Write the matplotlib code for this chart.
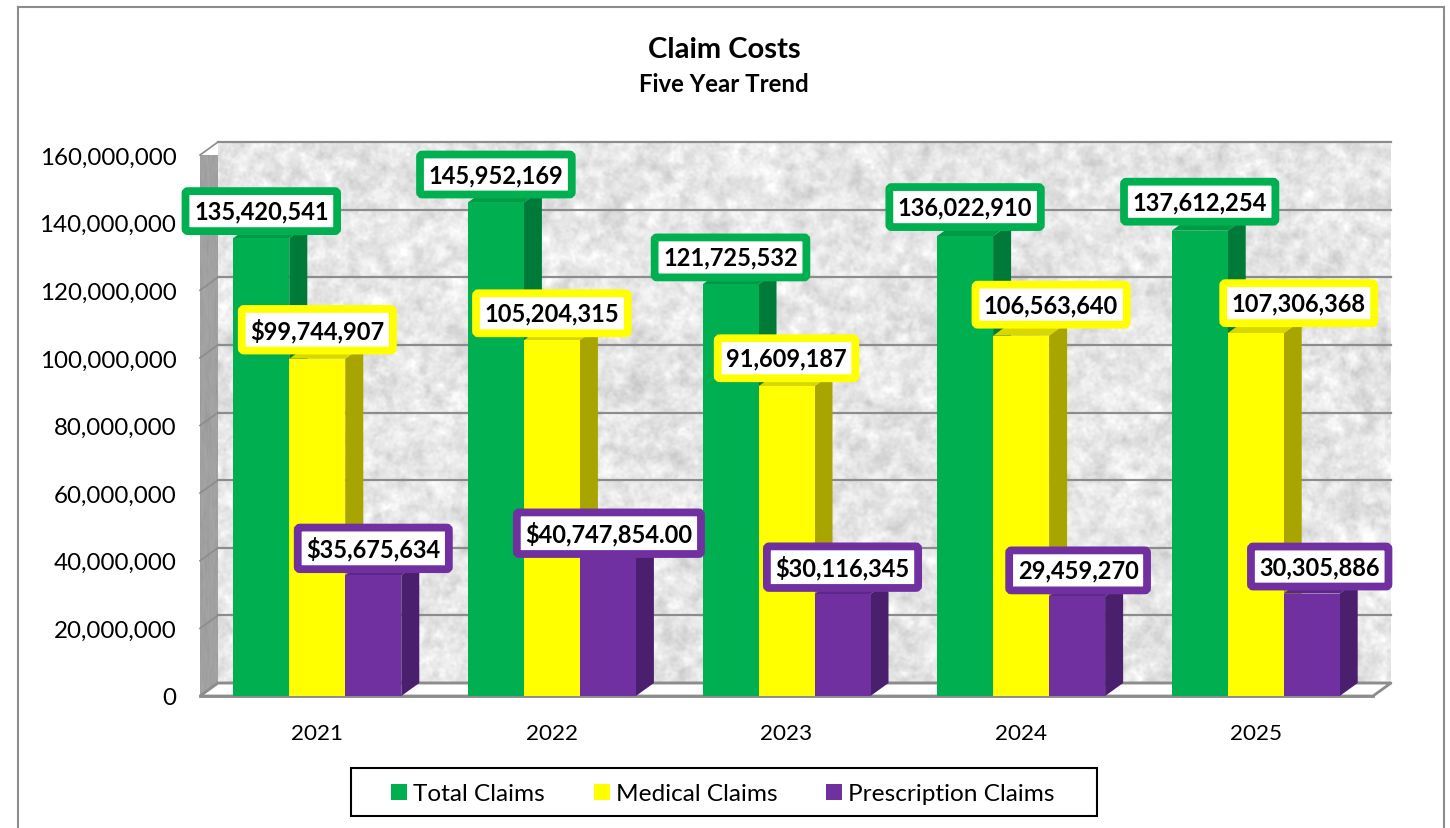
import numpy as np
import matplotlib
matplotlib.use('Agg')
import matplotlib.pyplot as plt
from matplotlib.patches import Polygon, Patch, Rectangle
from matplotlib.lines import Line2D

plt.rcParams['font.family'] = ['Lato', 'DejaVu Sans']

years = ['2021', '2022', '2023', '2024', '2025']
total_claims = [135420541, 145952169, 121725532, 136022910, 137612254]
medical_claims = [99744907, 105204315, 91609187, 106563640, 107306368]
prescription_claims = [35675634, 40747854, 30116345, 29459270, 30305886]

total_labels = ['135,420,541', '145,952,169', '121,725,532', '136,022,910', '137,612,254']
medical_labels = ['$99,744,907', '105,204,315', '91,609,187', '106,563,640', '107,306,368']
prescription_labels = ['$35,675,634', '$40,747,854.00', '$30,116,345', '29,459,270', '30,305,886']

# label offsets from the bar top centre, in pixels
total_offsets = [(0, 27), (0, 28), (0, 27), (0, 29), (0, 29)]
medical_offsets = [(0, 29), (0, 27), (0, 28), (30, 31), (43, 30)]
prescription_offsets = [(0, 27), (1, 25), (0, 27), (1, 26), (8, 27)]

W, H = 1450, 829
fig = plt.figure(figsize=(W / 100, H / 100), dpi=100)
ax = fig.add_axes([200 / W, 1 - 697 / H, 1173 / W, 541 / H])

ymax = 160000000
n = len(years)
bar_w = 56 / (1173 / n)
dx = 18 / (1173 / n)
dy = 13 / 541 * ymax
x0, x1 = -0.5, n - 0.5


def texture(base, amp, seed):
    # speckled stone look for the walls, not chart data
    rng = np.random.default_rng(seed)
    h, w = 543, 1174
    fy = np.fft.fftfreq(h)[:, None]
    fx = np.fft.rfftfreq(w)[None, :]
    f2 = fx ** 2 + fy ** 2
    img = np.zeros((h, w))
    for sigma, weight in [(1.2, 0.6), (3.5, 1.0), (9.0, 0.5)]:
        noise = rng.normal(size=(h, w))
        smooth = np.fft.irfft2(np.fft.rfft2(noise) * np.exp(-2 * (np.pi * sigma) ** 2 * f2), s=(h, w))
        img += weight * smooth / smooth.std()
    img = img / img.std()
    return np.clip(base + amp * img, 0, 1)


back = ax.imshow(texture(0.905, 0.032, 3), cmap='gray', vmin=0, vmax=1, aspect='auto',
                 extent=[x0 + dx, x1 + dx, dy, ymax + dy], interpolation='bilinear',
                 clip_on=False, zorder=1)

left = ax.imshow(texture(0.63, 0.025, 5), cmap='gray', vmin=0, vmax=1, aspect='auto',
                 extent=[x0, x0 + dx, 0, ymax + dy], interpolation='bilinear', zorder=1)
left_poly = Polygon([(x0, 0), (x0 + dx, dy), (x0 + dx, ymax + dy), (x0, ymax)],
                    closed=True, transform=ax.transData, fc='none', ec='none')
ax.add_patch(left_poly)
left.set_clip_path(left_poly)

floor = Polygon([(x0, 0), (x0 + dx, dy), (x1 + dx, dy), (x1, 0)], closed=True,
                fc='white', ec='#8c8c8c', lw=2, clip_on=False, zorder=1.5)
ax.add_patch(floor)

for v in range(0, ymax + 1, 20000000):
    ax.plot([x0 + dx, x1 + dx], [v + dy, v + dy], color='#8c8c8c', lw=1.6, clip_on=False, zorder=2)
    ax.plot([x0, x0 + dx], [v, v + dy], color='#8c8c8c', lw=1.2, clip_on=False, zorder=2)

ax.plot([x0, x1], [0, 0], color='#8c8c8c', lw=2, clip_on=False, zorder=2.5)

series = [
    (total_claims, '#00b050', '#007a38', '#009a45', total_labels, total_offsets, -1),
    (medical_claims, '#ffff00', '#a8a400', '#d8d800', medical_labels, medical_offsets, 0),
    (prescription_claims, '#7030a0', '#4a1f6e', '#5c2788', prescription_labels, prescription_offsets, 1),
]

for k, (vals, col, side, top, labels, offsets, pos) in enumerate(series):
    xs = np.arange(n) + pos * bar_w
    z = 3 + k
    ax.bar(xs, vals, bar_w, color=col, lw=0, zorder=z + 0.2)
    for xc, v in zip(xs, vals):
        r = xc + bar_w / 2
        l = xc - bar_w / 2
        ax.add_patch(Polygon([(r, 0), (r + dx, dy), (r + dx, v + dy), (r, v)], closed=True,
                             fc=side, ec='none', zorder=z))
        ax.add_patch(Polygon([(l, v), (l + dx, v + dy), (r + dx, v + dy), (r, v)], closed=True,
                             fc=top, ec='none', clip_on=False, zorder=z))

for vals, col, side, top, labels, offsets, pos in series:
    xs = np.arange(n) + pos * bar_w
    for xc, v, s, off in zip(xs, vals, labels, offsets):
        ax.annotate(s, (xc, v), xytext=(off[0] * 0.72, off[1] * 0.72), textcoords='offset points',
                    ha='center', va='center', fontsize=17, fontweight='bold', color='black',
                    zorder=10, annotation_clip=False,
                    bbox=dict(boxstyle='round,pad=0.36,rounding_size=0.1', fc='white', ec=col, lw=5.6))

ax.set_xlim(x0, x1)
ax.set_ylim(0, ymax)
ax.set_xticks(np.arange(n))
ax.set_xticklabels(years, fontsize=16.2)
ax.set_yticks(range(0, ymax + 1, 20000000))
ax.set_yticklabels([f'{v:,}' for v in range(0, ymax + 1, 20000000)], fontsize=17.4)
ax.tick_params(length=0)
ax.tick_params(axis='x', pad=19.5)
ax.tick_params(axis='y', pad=17)
for s in ax.spines.values():
    s.set_visible(False)

fig.text(724 / W, 1 - 50 / H, 'Claim Costs', ha='center', va='center', fontsize=21, fontweight='bold')
fig.text(724 / W, 1 - 85 / H, 'Five Year Trend', ha='center', va='center', fontsize=17.3, fontweight='bold')

# outer frame, open at the bottom
for xs_, ys_ in [([18, 18], [829, 8]), ([18, 1444], [8, 8]), ([1444, 1444], [8, 829])]:
    fig.add_artist(Line2D([a / W for a in xs_], [1 - b / H for b in ys_], color='#8c8c8c', lw=1.5))

fig.add_artist(Rectangle((351 / W, 1 - 817 / H), 746 / W, 48 / H, transform=fig.transFigure,
                         fc='white', ec='black', lw=1.5))
handles = [Patch(fc=c, ec='none') for c in ('#00b050', '#ffff00', '#7030a0')]
leg = fig.legend(handles, ['Total Claims', 'Medical Claims', 'Prescription Claims'],
                 loc='center', bbox_to_anchor=(723 / W, 1 - 795 / H), ncols=3, fontsize=17.6,
                 frameon=False, handlelength=0.65, handleheight=0.65, handletextpad=0.25,
                 columnspacing=2.0, borderpad=0, borderaxespad=0)

fig.savefig('out.png', dpi=100)
